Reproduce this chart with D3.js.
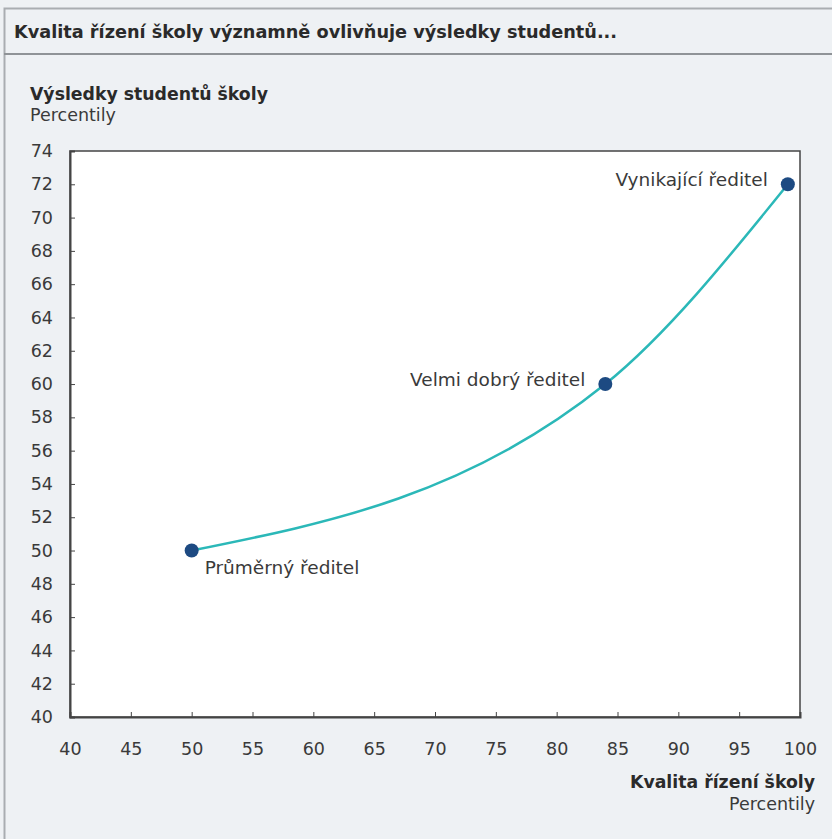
<!DOCTYPE html>
<html>
<head>
<meta charset="utf-8">
<script src="https://cdn.jsdelivr.net/npm/d3@7"></script>
<style>
  body { margin: 0; background: #eef1f4; }
  text { font-family: "DejaVu Sans", sans-serif; }
</style>
</head>
<body>
<svg width="832" height="839"></svg>
<script>
const quality = [50, 84, 99]
const results = [50, 60, 72]
const pointNames = ['Průměrný ředitel', 'Velmi dobrý ředitel', 'Vynikající ředitel']
const xTicks = [40, 45, 50, 55, 60, 65, 70, 75, 80, 85, 90, 95, 100]
const yTicks = [40, 42, 44, 46, 48, 50, 52, 54, 56, 58, 60, 62, 64, 66, 68, 70, 72, 74]

const svg = d3.select('svg')
const width = +svg.attr('width')
const height = +svg.attr('height')

const data = quality.map((q, i) => ({q, r: results[i], name: pointNames[i]}))

// frame + header band
svg.append('rect')
    .attr('x', 4.5).attr('y', 8.5)
    .attr('width', width + 10).attr('height', height)
    .attr('fill', '#eef1f4').attr('stroke', '#a9adb1').attr('stroke-width', 2)
svg.append('line')
    .attr('x1', 4).attr('x2', width).attr('y1', 54).attr('y2', 54)
    .attr('stroke', '#8f9397').attr('stroke-width', 2)
svg.append('text')
    .attr('x', 14).attr('y', 38)
    .attr('font-size', 17.7).attr('font-weight', 'bold').attr('fill', '#2a2a2a')
    .text('Kvalita řízení školy významně ovlivňuje výsledky studentů...')

const margin = {top: 151, right: 32, bottom: 122, left: 70}
const innerWidth = width - margin.left - margin.right
const innerHeight = height - margin.top - margin.bottom

const xScale = d3.scaleLinear().domain([40, 100]).range([0, innerWidth])
const yScale = d3.scaleLinear().domain([40, 74]).range([innerHeight, 0])

const g = svg.append('g')
    .attr('transform', `translate(${margin.left},${margin.top})`)

g.append('rect')
    .attr('width', innerWidth).attr('height', innerHeight)
    .attr('fill', '#fff').attr('stroke', '#444').attr('stroke-width', 1.5)

const yAxis = g.append('g')
    .call(d3.axisLeft(yScale).tickValues(yTicks).tickSize(-5).tickPadding(17))
const xAxis = g.append('g')
    .attr('transform', `translate(0,${innerHeight})`)
    .call(d3.axisBottom(xScale).tickValues(xTicks).tickSize(-5).tickPadding(26))
;[xAxis, yAxis].forEach(a => {
    a.select('.domain').attr('stroke', '#444').attr('stroke-width', 2)
    a.selectAll('.tick line').attr('stroke', '#444')
    a.selectAll('.tick text').attr('font-size', 17.5).attr('fill', '#3a3a3a')
        .attr('font-family', '"DejaVu Sans", sans-serif')
})

const line = d3.line()
    .x(d => xScale(d.q))
    .y(d => yScale(d.r))
    .curve(d3.curveMonotoneX)

g.append('path').datum(data)
    .attr('d', line)
    .attr('fill', 'none').attr('stroke', '#2bb8b8').attr('stroke-width', 2.5)

g.selectAll('circle').data(data)
    .enter().append('circle')
        .attr('cx', d => xScale(d.q))
        .attr('cy', d => yScale(d.r))
        .attr('r', 7)
        .attr('fill', '#1d4a82')

g.selectAll('.lbl').data(data)
    .enter().append('text')
        .attr('class', 'lbl')
        .attr('x', (d, i) => xScale(d.q) + (i === 0 ? 13 : -20))
        .attr('y', (d, i) => yScale(d.r) + (i === 0 ? 23 : 2))
        .attr('text-anchor', (d, i) => i === 0 ? 'start' : 'end')
        .attr('font-size', 18.5).attr('fill', '#3a3a3a')
        .text(d => d.name)

// axis titles
svg.append('text')
    .attr('x', 30).attr('y', 100)
    .attr('font-size', 17.3).attr('font-weight', 'bold').attr('fill', '#2a2a2a')
    .text('Výsledky studentů školy')
svg.append('text')
    .attr('x', 30).attr('y', 121)
    .attr('font-size', 17.5).attr('fill', '#3a3a3a')
    .text('Percentily')
svg.append('text')
    .attr('x', 815).attr('y', 788).attr('text-anchor', 'end')
    .attr('font-size', 17.3).attr('font-weight', 'bold').attr('fill', '#2a2a2a')
    .text('Kvalita řízení školy')
svg.append('text')
    .attr('x', 815).attr('y', 810).attr('text-anchor', 'end')
    .attr('font-size', 17.5).attr('fill', '#3a3a3a')
    .text('Percentily')
</script>
</body>
</html>
